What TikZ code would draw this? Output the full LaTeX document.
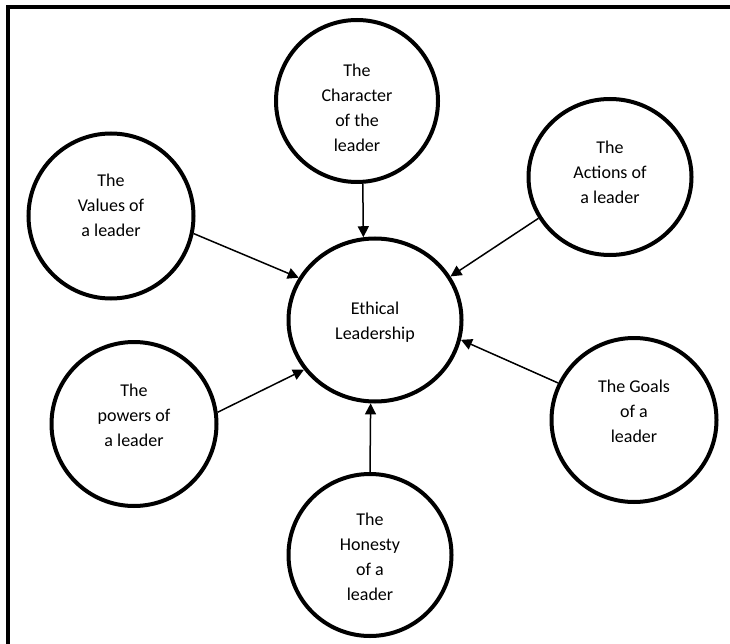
\documentclass[tikz,border=0pt]{standalone}
\usepackage{fontspec}
\setmainfont{Carlito}
\usepackage{xcolor}
\usepackage{tikz}
\usetikzlibrary{shapes.geometric,arrows.meta}
\definecolor{ink}{HTML}{000000}
\tikzset{
  frame/.style={draw=ink, line width=4.5pt, line join=miter},
  bub/.style={draw=ink, ellipse, line width=4pt, inner sep=0pt},
  arr/.style={draw=ink, line width=1.5pt, -{Triangle[length=11pt,width=11pt]}},
  txt/.style={text=ink, align=center, inner sep=0pt, font=\fontsize{18}{25}\selectfont},
}
\begin{document}
\begin{tikzpicture}[x=1pt,y=-1pt]
  \useasboundingbox (0,0) rectangle (730,644);
  \coordinate (fr-a) at (730,7);
  \coordinate (fr-b) at (8,7);
  \coordinate (fr-c) at (8,644);
  \draw[frame] (fr-a) -- (fr-b) -- (fr-c);

  \node[bub, minimum width=173pt, minimum height=163pt] (eth) at (375,320) {};
  \node[bub, minimum width=162pt, minimum height=162pt] (chr) at (357,101) {};
  \node[bub, minimum width=165pt, minimum height=165pt] (val) at (111,216) {};
  \node[bub, minimum width=163pt, minimum height=156pt] (act) at (610,177) {};
  \node[bub, minimum width=165pt, minimum height=164pt] (pow) at (134,424) {};
  \node[bub, minimum width=165pt, minimum height=164pt] (gol) at (634,420) {};
  \node[bub, minimum width=163pt, minimum height=162pt] (hon) at (370,555) {};

  \node[txt] (eth-t) at ([yshift=-2pt]eth.center) {Ethical\\Leadership};
  \node[txt] (chr-t) at ([yshift=-7pt]chr.center) {The\\Character\\of the\\leader};
  \node[txt] (val-t) at ([yshift=11pt]val.center) {The\\Values of\\a leader};
  \node[txt] (act-t) at ([yshift=5pt]act.center) {The\\Actions of\\a leader};
  \node[txt] (pow-t) at ([yshift=9pt]pow.center) {The\\powers of\\a leader};
  \node[txt] (gol-t) at ([yshift=9pt]gol.center) {The Goals\\of a\\leader};
  \node[txt] (hon-t) at ([yshift=-2pt]hon.center) {The\\Honesty\\of a\\leader};

  \draw[arr] (chr.-86) -- (eth.98);
  \draw[arr] (val.-12) -- (eth.151);
  \draw[arr] (act.210) -- (eth.30);
  \draw[arr] (pow.8) -- (eth.215);
  \draw[arr] (gol.154) -- (eth.-13);
  \draw[arr] (hon.north) -- (eth.-93);
\end{tikzpicture}
\end{document}
